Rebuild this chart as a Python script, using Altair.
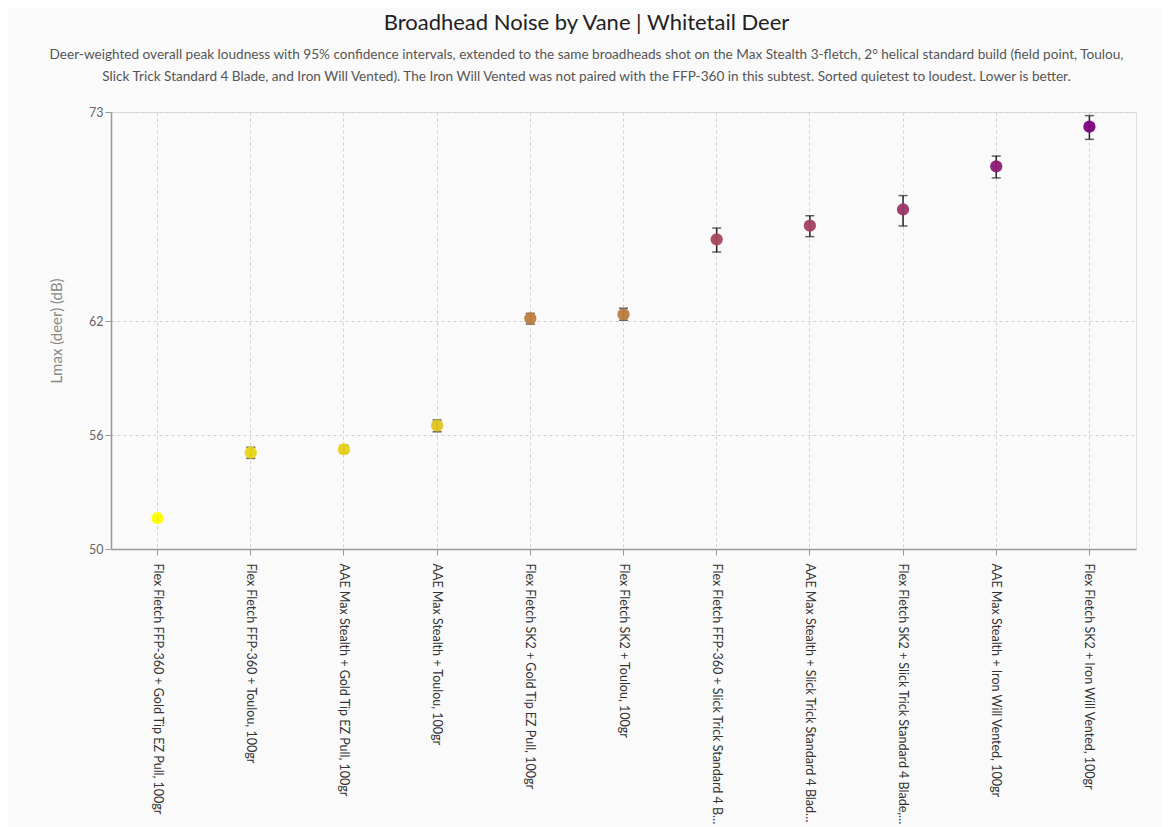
import pandas as pd
import altair as alt

# Broadhead noise data, sorted quietest to loudest
setups = [
    'Flex Fletch FFP-360 + Gold Tip EZ Pull, 100gr',
    'Flex Fletch FFP-360 + Toulou, 100gr',
    'AAE Max Stealth + Gold Tip EZ Pull, 100gr',
    'AAE Max Stealth + Toulou, 100gr',
    'Flex Fletch SK2 + Gold Tip EZ Pull, 100gr',
    'Flex Fletch SK2 + Toulou, 100gr',
    'Flex Fletch FFP-360 + Slick Trick Standard 4 Blade, 100gr',
    'AAE Max Stealth + Slick Trick Standard 4 Blade, 100gr',
    'Flex Fletch SK2 + Slick Trick Standard 4 Blade, 100gr',
    'AAE Max Stealth + Iron Will Vented, 100gr',
    'Flex Fletch SK2 + Iron Will Vented, 100gr',
]
lmax = [51.62, 55.07, 55.25, 56.49, 62.14, 62.35, 66.30, 67.02, 67.87, 70.14, 72.23]
ci_low = [51.50, 54.77, 55.05, 56.17, 61.84, 62.04, 65.63, 66.44, 67.00, 69.53, 71.56]
ci_high = [51.74, 55.35, 55.45, 56.79, 62.40, 62.67, 66.89, 67.54, 68.60, 70.68, 72.81]

y_ticks = [50, 56, 62, 73]

df = pd.DataFrame({
    'setup': setups,
    'lmax': lmax,
    'lo': ci_low,
    'hi': ci_high,
})

FONT = 'Lato'

x_enc = alt.X('setup:N', sort=setups, title=None,
              axis=alt.Axis(labelAngle=90, labelAlign='left', labelBaseline='middle',
                            labelLimit=264, labelFontSize=12.5, labelColor='#333',
                            labelPadding=8, tickColor='#999', tickSize=6,
                            domainColor='#999', domainWidth=1.5,
                            grid=True, gridDash=[3, 3], gridColor='#d0d0d0'))
y_scale = alt.Scale(domain=[50, 73], nice=False, zero=False)

base = alt.Chart(df)

rule = base.mark_rule(color='#222', strokeWidth=1.5).encode(
    x=x_enc,
    y=alt.Y('lo:Q', scale=y_scale),
    y2='hi:Q',
)
cap_lo = base.mark_tick(color='#222', size=9, thickness=1.5).encode(
    x=alt.X('setup:N', sort=setups),
    y=alt.Y('lo:Q', scale=y_scale),
)
cap_hi = base.mark_tick(color='#222', size=9, thickness=1.5).encode(
    x=alt.X('setup:N', sort=setups),
    y=alt.Y('hi:Q', scale=y_scale),
)
points = base.mark_circle(size=150, opacity=0.95).encode(
    x=alt.X('setup:N', sort=setups),
    y=alt.Y('lmax:Q', scale=y_scale, title='Lmax (deer) (dB)',
            axis=alt.Axis(values=y_ticks, labelColor='#666', labelFontSize=12.5,
                          titleColor='#888', titleFontSize=15, titleFontWeight='normal',
                          titlePadding=24, tickColor='#999', tickSize=6,
                          domainColor='#999', domainWidth=1.5,
                          gridDash=[3, 3], gridColor='#d0d0d0')),
    color=alt.Color('lmax:Q', legend=None,
                    scale=alt.Scale(domain=[min(lmax), max(lmax)],
                                    range=['#ffff00', '#800080'], interpolate='rgb')),
    tooltip=['setup', 'lmax', 'lo', 'hi'],
)

chart = (rule + cap_lo + cap_hi + points).properties(
    width=1025,
    height=437,
    background='#fafafa',
    padding={'left': 41, 'top': 4, 'right': 26, 'bottom': 5},
    title=alt.TitleParams(
        'Broadhead Noise by Vane | Whitetail Deer',
        subtitle=[
            'Deer-weighted overall peak loudness with 95% confidence intervals, extended to the same broadheads shot on the Max Stealth 3-fletch, 2\u00b0 helical standard build (field point, Toulou,',
            'Slick Trick Standard 4 Blade, and Iron Will Vented). The Iron Will Vented was not paired with the FFP-360 in this subtest. Sorted quietest to loudest. Lower is better.',
        ],
        fontSize=22, fontWeight='normal', color='#222', font=FONT,
        subtitleFontSize=13.6, subtitleColor='#555', subtitleFont=FONT,
        subtitlePadding=13, subtitleLineHeight=22, offset=21, anchor='middle',
        dx=-37,
    ),
).configure_view(
    stroke='#d0d0d0', strokeDash=[3, 3]
).configure(font=FONT)

chart.save('out.html', embed_options={'renderer': 'svg', 'actions': False})
